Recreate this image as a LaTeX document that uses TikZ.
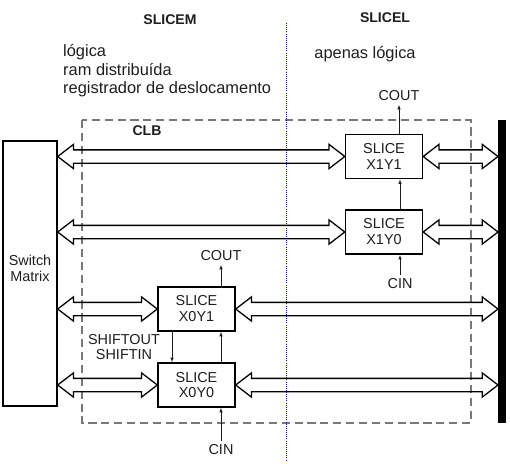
\documentclass[tikz,border=0pt]{standalone}
\usepackage{fontspec}
\setmainfont{Liberation Sans}
\usetikzlibrary{shapes,arrows.meta,positioning,fit,calc}
\definecolor{inkgray}{RGB}{30,30,30}
\definecolor{clbgray}{RGB}{120,120,120}

\tikzset{
  slicebox/.style={draw, line width=1.2pt, minimum width=2.31cm, minimum height=1.32cm, align=center, inner sep=0pt, font=\fontsize{12.3}{13.6}\selectfont, text=inkgray},
  bus/.style={double arrow, draw, line width=1.1pt, inner xsep=0pt, inner ysep=0.18cm, text height=0pt, text depth=0pt, text width=0pt, double arrow head extend=0.165cm, double arrow tip angle=75},
  sig/.style={-{Latex[length=4pt,width=3pt]}, line width=0.7pt, draw=inkgray},
  lbl/.style={font=\fontsize{12.3}{13}\selectfont, text=inkgray, inner sep=1pt, outer sep=2pt},
  head/.style={font=\bfseries\fontsize{12}{13}\selectfont, text=inkgray}
}

\begin{document}
\begin{tikzpicture}[x=0.03cm, y=0.03cm]
\useasboundingbox (0,0) rectangle (510,463);

% titles and notes
\node[head] (slicem) at (170,443) {SLICEM};
\node[head] (slicel) at (385,445) {SLICEL};
\node[anchor=west, align=left, text=inkgray, font=\fontsize{14}{15.8}\selectfont, inner sep=0pt] (notesM) at (63,392) {lógica\\ram distribuída\\registrador de deslocamento};
\node[text=inkgray, font=\fontsize{14}{15.8}\selectfont] (notesL) at (365,409) {apenas lógica};

% CLB outline and divider
\draw[clbgray, line width=1.1pt, dash pattern=on 7pt off 4pt] (82,343) rectangle (471,40);
\node[head] (clb) at (147,332) {CLB};
\draw[blue, line width=0.8pt, densely dotted] (286,440) -- (286,3);

% switch matrix and output bus
\node[draw, line width=1.2pt, inner sep=0pt, fit={(3,322) (57,57)}, align=center, font=\fontsize{12.3}{13.6}\selectfont, text=inkgray] (sm) {Switch\\Matrix};
\node[fill=black, inner sep=0pt, outer sep=0pt, fit={(498,343) (506,40)}] (bar) {};

% slices
\node[slicebox] (x1y1) at (384,306.5) {SLICE\\X1Y1};
\node[slicebox] (x1y0) at (384,231) {SLICE\\X1Y0};
\node[slicebox] (x0y1) at (196.5,154) {SLICE\\X0Y1};
\node[slicebox] (x0y0) at (196.5,78) {SLICE\\X0Y0};

% buses
\foreach \s in {x1y1,x1y0,x0y1,x0y0} {
  \path let \p1=(sm.east |- \s.west), \p2=(\s.west) in
    node[bus, minimum height=\x2-\x1] (busL\s) at ($(\p1)!0.5!(\p2)$) {};
  \path let \p1=(\s.east), \p2=(bar.west |- \s.east) in
    node[bus, minimum height=\x2-\x1] (busR\s) at ($(\p1)!0.5!(\p2)$) {};
}

% carry chain, right column
\node[lbl] (coutR) at (399,367) {COUT};
\node[lbl] (cinR) at (400,179) {CIN};
\draw[sig] (x1y1.north -| coutR) -- (coutR.south);
\draw[sig] (x1y0.north -| cinR) -- (x1y1.south -| cinR);
\draw[sig] (cinR.north) -- (x1y0.south -| cinR);

% carry chain and shift chain, left column
\node[lbl] (coutL) at (221,207) {COUT};
\node[lbl] (cinL) at (221,13) {CIN};
\node[lbl, align=center, font=\fontsize{12.3}{12.8}\selectfont] (shift) at (124,116) {SHIFTOUT\\SHIFTIN};
\coordinate (shx) at (172,0);
\draw[sig] (x0y1.north -| coutL) -- (coutL.south);
\draw[sig] (x0y0.north -| coutL) -- (x0y1.south -| coutL);
\draw[sig] (cinL.north) -- (x0y0.south -| cinL);
\draw[sig] (x0y1.south -| shx) -- (x0y0.north -| shx);
\end{tikzpicture}
\end{document}
